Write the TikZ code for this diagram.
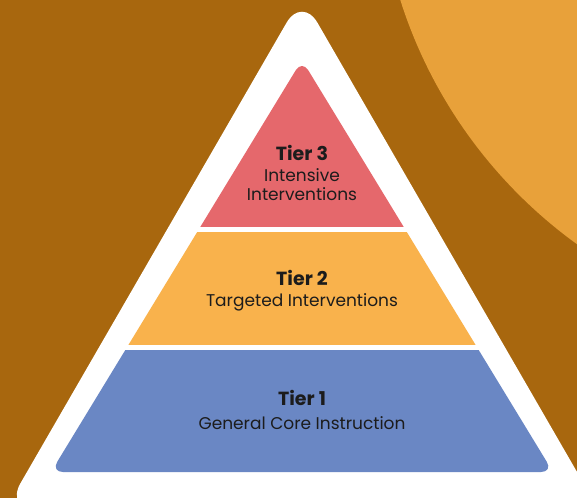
\documentclass[tikz,border=0pt]{standalone}
\usepackage{fontspec}
\setmainfont{Poppins}
\usepackage{tikz}
\usetikzlibrary{calc}

\definecolor{bgbrown}{HTML}{A8670E}
\definecolor{sunorange}{HTML}{E8A13A}
\definecolor{tierred}{HTML}{E5686C}
\definecolor{tierorange}{HTML}{F9B24C}
\definecolor{tierblue}{HTML}{6A87C4}
\definecolor{inkdark}{HTML}{1C1C1C}

\begin{document}
\begin{tikzpicture}[x=1pt,y=-1pt,
      title/.style={anchor=base,inner sep=0pt,text=inkdark,font=\fontsize{19}{21}\selectfont\bfseries},
      sub/.style={anchor=base,inner sep=0pt,text=inkdark,font=\fontsize{17}{19}\selectfont}]
      \useasboundingbox (0,0) rectangle (577,498);
      \clip (0,0) rectangle (577,498);
      \fill[bgbrown] (0,0) rectangle (577,498);
      \fill[sunorange] (858,-145) circle (480);

      % white frame
      \fill[white,rounded corners=31pt] (302,-4) -- (599,510) -- (5,510) -- cycle;

      % tiers, cut out of one triangle
      \begin{scope}
        \clip (0,0) rectangle (577,226);
        \fill[tierred,rounded corners=12pt] (302,60) -- (553,472) -- (51,472) -- cycle;
      \end{scope}
      \begin{scope}
        \clip (0,232) rectangle (577,344);
        \fill[tierorange,rounded corners=12pt] (302,60) -- (553,472) -- (51,472) -- cycle;
      \end{scope}
      \begin{scope}
        \clip (0,350) rectangle (577,498);
        \fill[tierblue,rounded corners=12pt] (302,60) -- (553,472) -- (51,472) -- cycle;
      \end{scope}

      \node[title] (t3) at (302,160) {Tier 3};
      \node[sub] (t3a) at (302,181) {Intensive};
      \node[sub] (t3b) at (302,200) {Interventions};

      \node[title] (t2) at (302,285) {Tier 2};
      \node[sub] (t2a) at (302,306.5) {Targeted Interventions};

      \node[title] (t1) at (302,405) {Tier 1};
      \node[sub] (t1a) at (302,429) {General Core Instruction};
\end{tikzpicture}
\end{document}
